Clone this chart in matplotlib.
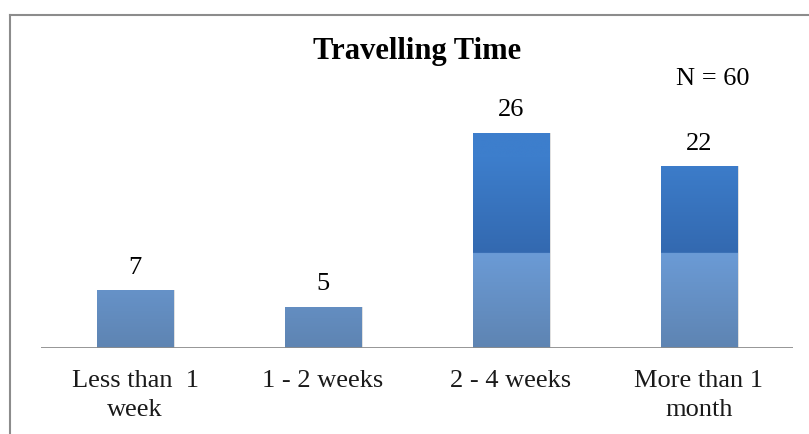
import matplotlib
matplotlib.use("Agg")
import matplotlib.pyplot as plt
import numpy as np

categories = ["Less than  1\nweek", "1 - 2 weeks", "2 - 4 weeks", "More than 1\nmonth"]
values = [7, 5, 26, 22]
title = "Travelling Time"
note = "N = 60"

plt.rcParams['font.family'] = ['Liberation Serif', 'DejaVu Serif']

W, H = 809, 434
fig = plt.figure(figsize=(W / 100, H / 100), dpi=100)
fig.patch.set_facecolor("white")

# outer chart frame (left and top border)
fig.add_artist(plt.Line2D([10 / W, 10 / W], [0, 1 - 15 / H], color="#8c8c8c", lw=1.5))
fig.add_artist(plt.Line2D([10 / W, 1], [1 - 15 / H, 1 - 15 / H], color="#8c8c8c", lw=1.5))

ax = fig.add_axes([41 / W, 1 - 348 / H, (793 - 41) / W, (348 - 100) / H])
ax.set_xlim(-0.5, 3.5)
ax.set_ylim(0, 30)
ax.axis("off")

x = np.arange(len(categories))
bars = ax.bar(x, values, width=0.405, color="none", edgecolor="none", zorder=2)

# gradient fill inside each bar
split = 11.5
ys = np.linspace(0, 30, 600)
cols = np.zeros((600, 1, 3))
def hexrgb(h):
    return np.array([int(h[i:i + 2], 16) / 255 for i in (1, 3, 5)])
top_hi, top_lo = hexrgb("#3d7ecc"), hexrgb("#3369b0")
bot_hi, bot_lo = hexrgb("#6b9bd6"), hexrgb("#5e84b2")
for i, yv in enumerate(ys):
    if yv >= split:
        t = (yv - split) / (30 - split)
        cols[i, 0] = top_lo + (top_hi - top_lo) * min(1, t * 1.6)
    else:
        t = yv / split
        cols[i, 0] = bot_lo + (bot_hi - bot_lo) * t
for b in bars:
    # soft shadow
    sh = plt.Rectangle((b.get_x() + 0.01, 0), b.get_width(), b.get_height(),
                       facecolor="#000000", alpha=0.12, edgecolor="none", zorder=1)
    ax.add_patch(sh)
    im = ax.imshow(cols, extent=[b.get_x(), b.get_x() + b.get_width(), 0, 30],
                   origin="lower", aspect="auto", zorder=2)
    im.set_clip_path(b)

ax.set_xlim(-0.5, 3.5)
ax.set_ylim(0, 30)

ax.axhline(0, color="#8c8c8c", lw=2, zorder=3)

for xi, v in zip(x, values):
    ax.text(xi, v + 1.4, str(v), ha="center", va="bottom", fontsize=19, color="black")

for xi, c in zip(x, categories):
    ax.text(xi, -2.7, c, ha="center", va="top", fontsize=19, color="#1a1a1a",
            linespacing=1.4)

fig.text(417 / W, 1 - 51 / H, title, ha="center", va="center", fontsize=22,
         fontweight="bold")
fig.text(713 / W, 1 - 79 / H, note, ha="center", va="center", fontsize=19)

fig.savefig("out.png", dpi=100)
